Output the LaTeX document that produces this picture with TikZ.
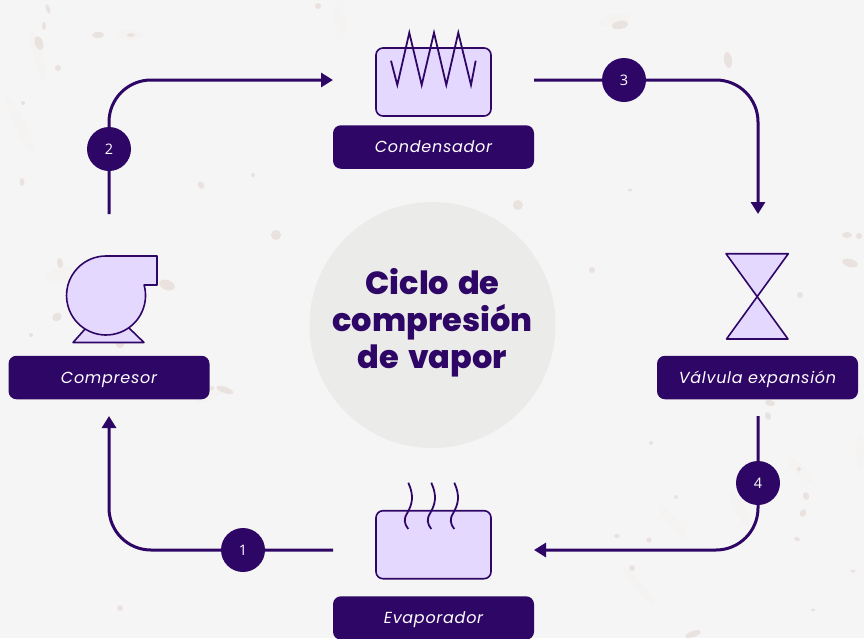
\documentclass[tikz,border=0pt]{standalone}
\usepackage{fontspec}
\setmainfont{Open Sans}
\newfontfamily\titlefont[BoldFont={Poppins ExtraBold},WordSpace=1.45]{Poppins}
\newfontfamily\labelfont[LetterSpace=4.5]{Poppins}
\usetikzlibrary{arrows.meta}
\definecolor{ink}{HTML}{2E0666}
\definecolor{lilac}{HTML}{E5D8FF}
\definecolor{paper}{HTML}{F6F5F5}
\definecolor{disc}{HTML}{EBEBE9}
\definecolor{spot}{HTML}{E9E2DF}
\definecolor{faint}{HTML}{F4F3F2}
\tikzset{
  labelbox/.style={fill=ink,rounded corners=8pt,minimum width=201pt,minimum height=43.5pt,inner sep=0pt,text=white,text height=12pt,text depth=1pt,font=\labelfont\fontsize{16pt}{18pt}\selectfont\itshape},
  icon/.style={draw=ink,fill=lilac,line width=1.6pt,line join=round},
  iconline/.style={draw=ink,line width=1.8pt,line join=miter},
  flow/.style={draw=ink,line width=3pt,rounded corners=42pt},
  flowtip/.style={-{Triangle[length=12pt,width=14pt]}},
  badge/.style={circle,fill=ink,minimum size=44pt,inner sep=0pt,text=white,font=\fontsize{14.5pt}{16pt}\selectfont},
  blot/.style={fill=spot,draw=none},
  streak/.style={fill=faint,draw=none}
}
\begin{document}
\begin{tikzpicture}[x=1pt,y=-1pt]
\useasboundingbox (0,0) rectangle (864,638);
\fill[paper] (0,0) rectangle (864,638);
% faint streaks in the paper
\foreach \x/\y/\a/\b/\r in {38/55/4/26/15,20/125/5/30/25,673/522/22/4/-50,638/585/24/4/-50,800/470/18/5/-45,210/395/16/5/25,60/275/14/8/20,740/510/20/5/-60,615/20/16/6/10,130/35/14/5/0,480/220/10/6/0,340/20/5/14/10,860/450/4/16/0}
  \fill[streak,rotate around={\r:(\x,\y)}] (\x,\y) ellipse [x radius=\a,y radius=\b];
% paper speckles
\foreach \x/\y/\a/\b/\r in {98/35/6/3/0,39/43/4/7/20,48/9/2/5/20,44/26/2/4/0,131/35/4/2/0,58/68/3/3/0,23/103/2/2/0,22/182/2.5/4/0,201/185/3/4/30,253/175/2/2/0,318/6/3/3/0,728/60/4/8/10,620/25/8/4/10,518/205/5/5/0,276/235/5/5/0,60/263/3/5/10,167/285/8/5/-20,57/317/5/4/30,31/335/2/2/0,120/345/4/3/0,847/235/5/3/0,859/236/3/3/0,850/263/8/4/-15,800/295/3/3/0,225/390/9/3/-20,212/388/2/2/0,770/403/5/3/-10,768/416/3/4/20,806/496/3/4/20,803/513/3/4/-30,797/539/3/2/-20,853/571/2.5/1.5/0,813/610/2/1.5/0,693/634/8/3/20,799/469/2/2/0,649/540/2.5/2.5/0,617/536/3/2/0,632/568/3/3/0,676/497/2/2/0,651/443/2/2/0,592/270/3/3/0,120/608/3/3/0,630/190/2/1.5/0}
  \fill[blot,rotate around={\r:(\x,\y)}] (\x,\y) ellipse [x radius=\a,y radius=\b];

% centre
\node[circle,fill=disc,minimum size=246pt,inner sep=0pt] (centre) at (432.5,325) {};
\node[align=center,text=ink,font=\titlefont\bfseries\fontsize{32pt}{37pt}\selectfont] (title) at (432.5,322.5) {Ciclo de\\compresión\\de vapor};

% labels
\node[labelbox] (lcond) at (433.5,147) {Condensador};
\node[labelbox] (lcomp) at (109,377.5) {Compresor};
\node[labelbox] (lvalv) at (757.5,377.5) {Válvula expansión};
\node[labelbox] (levap) at (433.5,618) {Evaporador};

% condenser
\draw[icon,rounded corners=7pt] (376,48) rectangle (491,116);
\draw[iconline] (391,60.7) -- (397.3,85) -- (409.3,32.7) -- (421.7,85) -- (434,32.7) -- (446.3,85) -- (458.3,32.7) -- (471,85) -- (475.7,60.7);

% evaporator
\draw[icon,rounded corners=7pt] (376,510.7) rectangle (491,578.7);
\foreach \x in {408.3,431.3,454.3}
  \draw[iconline] (\x,482.7) .. controls (\x+6,496) and (\x+4,504) .. (\x-1,513) .. controls (\x-5,519) and (\x-4,524) .. (\x,529);

% compressor
\draw[icon] (73,342.5) -- (144,342.5) -- (129,328) -- (86,328) -- cycle;
\draw[icon] (106,256) -- (157,256) -- (157,285) -- (144.1,285)
  arc[start angle=-15.4,delta angle=285.4,radius=39.5] -- cycle;

% valve
\draw[icon] (726,253.7) -- (788.3,253.7) -- (726.5,339) -- (788,339) -- cycle;

% connector ends
\coordinate (a1) at (333,550);
\coordinate (a2) at (109,416);
\coordinate (b1) at (109,214);
\coordinate (b2) at (333,80);
\coordinate (c1) at (534,80);
\coordinate (c2) at (758,214);
\coordinate (d1) at (758,416);
\coordinate (d2) at (534,550);

\draw[flow,flowtip] (a1) -- (109,550) -- (a2);
\draw[flow,flowtip] (b1) -- (109,80) -- (b2);
\draw[flow,flowtip] (c1) -- (758,80) -- (c2);
\draw[flow,flowtip] (d1) -- (758,550) -- (d2);

\node[badge] (n1) at (243,550) {1};
\node[badge] (n2) at (109,149) {2};
\node[badge] (n3) at (624,80) {3};
\node[badge] (n4) at (758,483) {4};
\end{tikzpicture}
\end{document}
